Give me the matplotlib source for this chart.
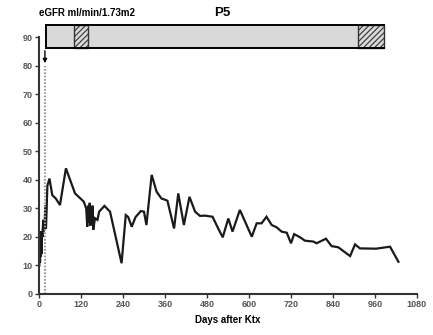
import matplotlib.pyplot as plt
import matplotlib.patches as mpatches

plt.rcParams['font.family'] = ['Liberation Sans', 'DejaVu Sans']
plt.rcParams['hatch.linewidth'] = 0.8

# eGFR course (days after transplant, ml/min/1.73m2)
days = [1, 2, 3, 4, 5, 6, 7, 8, 10, 12, 14, 16, 18, 20, 22, 24, 30, 38, 48, 60,
        77, 103, 128, 135, 138, 141, 143, 145, 147, 149, 151, 153, 155, 160, 167,
        172, 187, 203, 236, 248, 255, 265, 276, 291, 300, 307, 322, 336, 350, 362,
        367, 386, 398, 414, 430, 446, 460, 474, 496, 512, 525, 541, 553, 574, 608,
        622, 636, 650, 665, 679, 693, 708, 720, 729, 746, 760, 784, 793, 820, 836,
        855, 889, 903, 917, 963, 1003, 1027]
egfr = [10, 19, 11, 22, 13, 21, 14, 22, 20, 26, 22, 23, 31, 23, 30, 38, 40.5, 34.7,
        33.5, 31.2, 44.1, 35.3, 32.4, 30, 23.6, 31, 25, 32, 24, 30, 26, 31, 22.5,
        26.6, 26, 28.9, 30.9, 28.9, 10.8, 27.7, 27, 23.6, 27, 29.1, 28.9, 24.2,
        41.8, 35.9, 33.5, 33, 32.7, 23, 35.3, 24.2, 34.1, 28.9, 27.4, 27.5, 27.1,
        23, 19.9, 26.5, 21.9, 29.5, 20.1, 24.8, 24.8, 27.1, 24.2, 23.4, 21.9, 21.5,
        17.8, 21, 19.9, 18.7, 18.4, 17.8, 19.4, 16.8, 16.4, 13.3, 17.4, 16, 15.9,
        16.6, 11.3]

# treatment bar (start, end) in days
bar_span = (20, 986)
hatched = [(99, 140), (912, 986)]
bar_y = (86.3, 94.4)
event_day = 17

fig = plt.figure(figsize=(4.33, 3.35), dpi=100)
ax = fig.add_axes([0.090, 0.1224, 0.873, 0.8082])

ax.plot(days, egfr, color='#1a1a1a', lw=1.6, solid_joinstyle='miter')

# dotted line + arrow at the event
ax.plot([event_day, event_day], [0, 80], color='#999999', lw=1.5, ls=(0, (0.8, 0.8)))
ax.annotate('', xy=(event_day, 80), xytext=(event_day, bar_y[0]),
            arrowprops=dict(arrowstyle='-|>', color='black', lw=1.0,
                            mutation_scale=6))

# top bar
h = bar_y[1] - bar_y[0]
ax.add_patch(mpatches.Rectangle((bar_span[0], bar_y[0]), bar_span[1] - bar_span[0], h,
                                facecolor='#d9d9d9', edgecolor='none', clip_on=False))
for s, e in hatched:
    ax.add_patch(mpatches.Rectangle((s, bar_y[0]), e - s, h, facecolor='#d9d9d9',
                                    edgecolor='#333333', hatch='//////', lw=1.0,
                                    clip_on=False))
for yy in bar_y:
    ax.plot(bar_span, [yy, yy], color='black', lw=1.4, clip_on=False)
ax.plot([bar_span[0], bar_span[0]], bar_y, color='black', lw=1.4, clip_on=False)

ax.set_xlim(0, 1080)
ax.set_ylim(0, 95)
ax.set_xticks(range(0, 1081, 120))
ax.set_yticks(range(0, 91, 10))
ax.spines['top'].set_visible(False)
ax.spines['right'].set_visible(False)
ax.spines['left'].set_bounds(0, 90)
for sp in ('left', 'bottom'):
    ax.spines[sp].set_linewidth(1.5)
    ax.spines[sp].set_color('#333333')
ax.tick_params(length=3, width=1, labelsize=6.5, pad=1.5, color='#333333')
for lab in ax.get_xticklabels() + ax.get_yticklabels():
    lab.set_fontweight('bold')
    lab.set_color('#555555')

ax.set_xlabel('Days after Ktx', fontsize=7, fontweight='bold', labelpad=4)
fig.text(39 / 433, 1 - 13 / 335, 'eGFR ml/min/1.73m2', fontsize=7, fontweight='bold',
         ha='left', va='center')
fig.text(222 / 433, 1 - 13 / 335, 'P5', fontsize=9.5, fontweight='bold',
         ha='center', va='center')

fig.savefig('out.png', dpi=100)
